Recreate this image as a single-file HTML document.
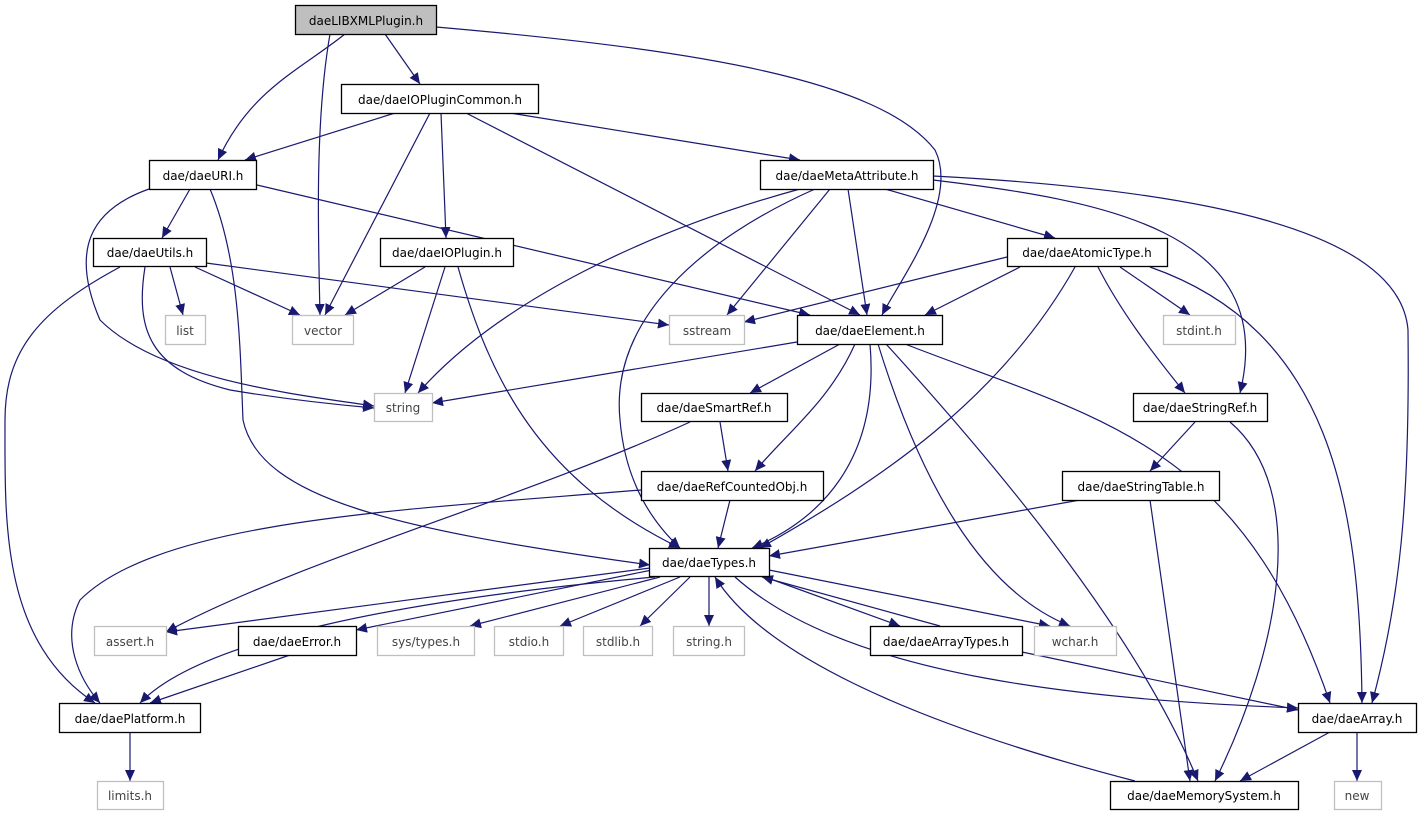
<!DOCTYPE html>
<html><head><meta charset="utf-8"><style>
html,body{margin:0;padding:0;background:#fff;}
svg{display:block;}
text{font-family:"DejaVu Sans","Liberation Sans",sans-serif;font-size:12px;text-anchor:middle;}
.n{fill:#fff;stroke:#000;stroke-width:1.3;}
.g{fill:#fff;stroke:#bfbfbf;stroke-width:1.3;}
.e{fill:none;stroke:#191970;stroke-width:1.2;marker-end:url(#a);}
.gt{fill:#444;}
</style></head><body>
<svg width="1421" height="813" viewBox="0 0 1421 813" xmlns="http://www.w3.org/2000/svg">
<defs><marker id="a" markerUnits="userSpaceOnUse" markerWidth="12" markerHeight="10" refX="11" refY="5" orient="auto"><path d="M0,0 L11,5 L0,10 z" fill="#191970"/></marker></defs>
<g>
<path class="e" d="M385,34 L420,84"/>
<path class="e" d="M345,34 C300,70 250,90 218,160"/>
<path class="e" d="M330,34 C315,120 318,230 320,315"/>
<path class="e" d="M436,27 C700,50 880,80 935,150 C960,200 900,280 882,315"/>
<path class="e" d="M395,113 L245,160"/>
<path class="e" d="M430,113 L325,315"/>
<path class="e" d="M441,113 L446,238"/>
<path class="e" d="M466,113 L860,315"/>
<path class="e" d="M510,113 L800,160"/>
<path class="e" d="M190,189 L162,238"/>
<path class="e" d="M149,189 C90,210 70,250 100,320 C160,380 300,395 374,406"/>
<path class="e" d="M210,189 C240,260 240,350 243,420 C260,500 400,530 650,565"/>
<path class="e" d="M257,185 L810,315"/>
<path class="e" d="M170,267 L183,315"/>
<path class="e" d="M195,267 L300,315"/>
<path class="e" d="M206,263 L669,325"/>
<path class="e" d="M145,267 C135,330 150,370 230,390 C290,400 340,405 374,408"/>
<path class="e" d="M120,267 C40,310 5,350 5,420 C5,520 0,640 95,703"/>
<path class="e" d="M425,267 L345,315"/>
<path class="e" d="M445,267 L405,393"/>
<path class="e" d="M458,267 C490,380 540,480 680,548"/>
<path class="e" d="M800,189 C650,230 500,300 418,393"/>
<path class="e" d="M815,189 C700,240 610,320 620,420 C625,480 650,520 680,548"/>
<path class="e" d="M830,189 L727,315"/>
<path class="e" d="M848,189 L867,315"/>
<path class="e" d="M885,189 L1055,238"/>
<path class="e" d="M933,180 C1100,200 1280,230 1240,393"/>
<path class="e" d="M933,176 C1200,190 1400,230 1408,330 C1410,500 1400,600 1372,703"/>
<path class="e" d="M1007,257 L744,322"/>
<path class="e" d="M1020,267 L925,315"/>
<path class="e" d="M1075,267 C1000,400 880,480 760,548"/>
<path class="e" d="M1120,267 L1190,315"/>
<path class="e" d="M1098,267 C1120,310 1150,350 1185,393"/>
<path class="e" d="M1150,267 C1330,330 1360,500 1362,703"/>
<path class="e" d="M797,342 L432,403"/>
<path class="e" d="M840,344 L750,393"/>
<path class="e" d="M855,344 C830,400 790,430 755,471"/>
<path class="e" d="M870,344 C880,460 820,520 752,548"/>
<path class="e" d="M878,344 C920,480 980,590 1070,626"/>
<path class="e" d="M886,344 C1010,480 1140,640 1198,781"/>
<path class="e" d="M905,344 C1100,420 1240,440 1330,703"/>
<path class="e" d="M720,422 L728,471"/>
<path class="e" d="M690,422 C520,500 300,560 166,632"/>
<path class="e" d="M1195,422 L1150,471"/>
<path class="e" d="M1230,422 C1310,490 1280,650 1215,781"/>
<path class="e" d="M730,500 L718,548"/>
<path class="e" d="M641,490 C400,510 160,520 80,600 C60,640 80,680 100,703"/>
<path class="e" d="M1080,500 L769,556"/>
<path class="e" d="M1150,500 L1190,781"/>
<path class="e" d="M650,568 L166,632"/>
<path class="e" d="M652,570 L356,630"/>
<path class="e" d="M660,577 L470,626"/>
<path class="e" d="M680,577 L560,626"/>
<path class="e" d="M690,577 L640,626"/>
<path class="e" d="M709,577 L709,626"/>
<path class="e" d="M765,577 L900,626"/>
<path class="e" d="M940,626 L762,577"/>
<path class="e" d="M769,570 L1050,626"/>
<path class="e" d="M655,577 C400,600 200,640 140,703"/>
<path class="e" d="M735,577 C850,680 1100,700 1298,708"/>
<path class="e" d="M1022,652 L1298,710"/>
<path class="e" d="M1135,781 C900,720 760,650 715,577"/>
<path class="e" d="M290,655 L150,703"/>
<path class="e" d="M130,732 L130,781"/>
<path class="e" d="M1330,732 L1240,781"/>
<path class="e" d="M1357,732 L1357,781"/>
</g>
<g>
<rect x="295.5" y="5.5" width="141" height="29" fill="#bfbfbf" stroke="#000" stroke-width="1.3"/><text x="366" y="25">daeLIBXMLPlugin.h</text>
<rect class="n" x="341.5" y="84.5" width="197" height="29"/><text x="440" y="104">dae/daeIOPluginCommon.h</text>
<rect class="n" x="149.5" y="160.5" width="107" height="29"/><text x="203" y="180">dae/daeURI.h</text>
<rect class="n" x="760.5" y="160.5" width="173" height="29"/><text x="847" y="180">dae/daeMetaAttribute.h</text>
<rect class="n" x="93.5" y="238.5" width="113" height="28"/><text x="150" y="257">dae/daeUtils.h</text>
<rect class="n" x="380.5" y="238.5" width="133" height="28"/><text x="447" y="257">dae/daeIOPlugin.h</text>
<rect class="n" x="1007.5" y="238.5" width="160" height="28"/><text x="1087" y="257">dae/daeAtomicType.h</text>
<rect class="g" x="165.5" y="315.5" width="40" height="29"/><text class="gt" x="185" y="335">list</text>
<rect class="g" x="292.5" y="315.5" width="61" height="29"/><text class="gt" x="323" y="335">vector</text>
<rect class="g" x="669.5" y="315.5" width="75" height="29"/><text class="gt" x="707" y="335">sstream</text>
<rect class="n" x="797.5" y="315.5" width="145" height="29"/><text x="870" y="335">dae/daeElement.h</text>
<rect class="g" x="1163.5" y="315.5" width="72" height="29"/><text class="gt" x="1199" y="335">stdint.h</text>
<rect class="g" x="374.5" y="393.5" width="58" height="28"/><text class="gt" x="403" y="412">string</text>
<rect class="n" x="641.5" y="393.5" width="146" height="28"/><text x="714" y="412">dae/daeSmartRef.h</text>
<rect class="n" x="1133.5" y="393.5" width="134" height="28"/><text x="1200" y="412">dae/daeStringRef.h</text>
<rect class="n" x="641.5" y="471.5" width="182" height="29"/><text x="732" y="491">dae/daeRefCountedObj.h</text>
<rect class="n" x="1062.5" y="471.5" width="157" height="29"/><text x="1141" y="491">dae/daeStringTable.h</text>
<rect class="n" x="649.5" y="548.5" width="120" height="28"/><text x="709" y="567">dae/daeTypes.h</text>
<rect class="g" x="94.5" y="626.5" width="72" height="29"/><text class="gt" x="130" y="646">assert.h</text>
<rect class="n" x="238.5" y="626.5" width="118" height="29"/><text x="297" y="646">dae/daeError.h</text>
<rect class="g" x="377.5" y="626.5" width="97" height="29"/><text class="gt" x="426" y="646">sys/types.h</text>
<rect class="g" x="494.5" y="626.5" width="69" height="29"/><text class="gt" x="529" y="646">stdio.h</text>
<rect class="g" x="583.5" y="626.5" width="69" height="29"/><text class="gt" x="618" y="646">stdlib.h</text>
<rect class="g" x="673.5" y="626.5" width="71" height="29"/><text class="gt" x="709" y="646">string.h</text>
<rect class="n" x="870.5" y="626.5" width="152" height="29"/><text x="946" y="646">dae/daeArrayTypes.h</text>
<rect class="g" x="1034.5" y="626.5" width="82" height="29"/><text class="gt" x="1075" y="646">wchar.h</text>
<rect class="n" x="59.5" y="703.5" width="141" height="29"/><text x="130" y="723">dae/daePlatform.h</text>
<rect class="n" x="1298.5" y="703.5" width="118" height="29"/><text x="1357" y="723">dae/daeArray.h</text>
<rect class="g" x="97.5" y="781.5" width="66" height="28"/><text class="gt" x="130" y="800">limits.h</text>
<rect class="n" x="1110.5" y="781.5" width="188" height="28"/><text x="1204" y="800">dae/daeMemorySystem.h</text>
<rect class="g" x="1334.5" y="781.5" width="47" height="28"/><text class="gt" x="1357" y="800">new</text>
</g>
</svg>
</body></html>
